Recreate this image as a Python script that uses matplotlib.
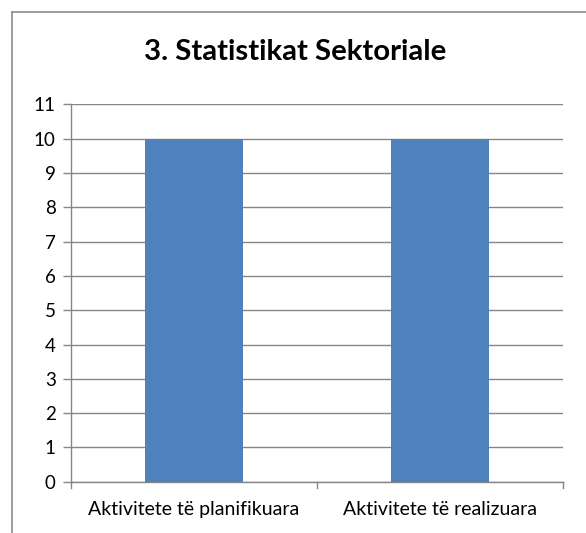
import matplotlib.pyplot as plt
from matplotlib.lines import Line2D

categories = ['Aktivitete të planifikuara', 'Aktivitete të realizuara']
values = [10, 10]
yticks = list(range(0, 12))
title = '3. Statistikat Sektoriale'

plt.rcParams['font.family'] = ['Lato', 'DejaVu Sans']
grey = '#868686'

fig = plt.figure(figsize=(5.86, 5.33), dpi=100)
ax = fig.add_axes([0.121, 0.0963, 0.84, 0.7077])

x = list(range(len(categories)))
ax.bar(x, values, width=0.4, color='#4F81BD', zorder=3)

ax.set_xlim(-0.5, len(categories) - 0.5)
ax.set_ylim(0, 11)
ax.set_yticks(yticks)
ax.set_yticklabels([str(t) for t in yticks], fontsize=13.5)
ax.set_xticks(x)
ax.set_xticklabels(categories, fontsize=14)
ax.tick_params(axis='x', length=0, pad=14)
ax.tick_params(axis='y', length=6, color=grey, width=1, pad=5)

# boundary tick marks between categories
for b in [-0.5, 0.5, 1.5]:
    ax.plot([b, b], [0, -0.18], color=grey, lw=1, clip_on=False, zorder=4)

ax.yaxis.grid(True, color=grey, lw=1, zorder=0)
for side in ['top', 'right']:
    ax.spines[side].set_visible(False)
for side in ['left', 'bottom']:
    ax.spines[side].set_color(grey)
    ax.spines[side].set_linewidth(1)

fig.text(295 / 586, 1 - 60 / 533, title, ha='center', va='baseline',
         fontsize=21.2, fontweight='bold')

# chart border (extends past the right and bottom of the image)
fig.add_artist(Line2D([12 / 586, 12 / 586], [0, 1 - 12 / 533], color='#8c8c8c', lw=1.2))
fig.add_artist(Line2D([12 / 586, 1], [1 - 12 / 533, 1 - 12 / 533], color='#8c8c8c', lw=1.2))

fig.savefig('out.png', dpi=100)
